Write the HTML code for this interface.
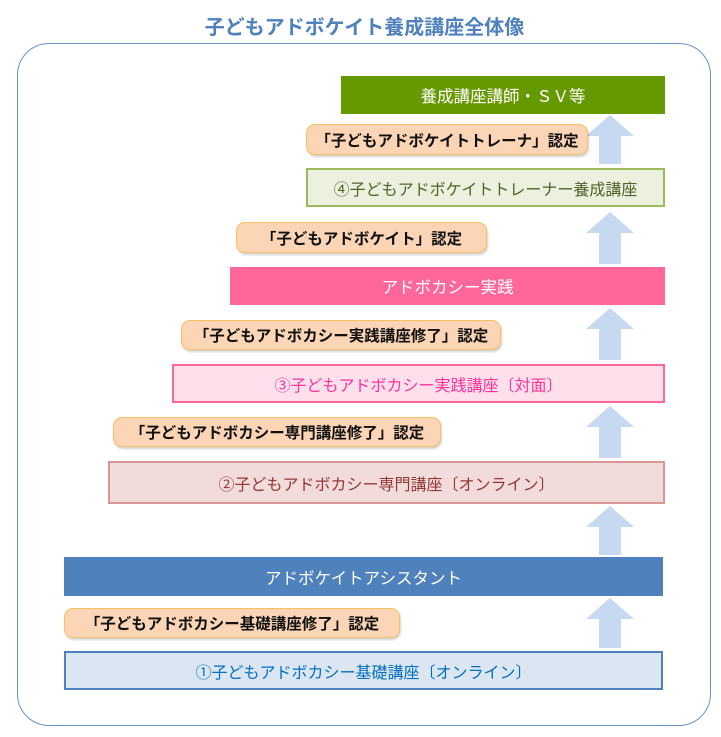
<!DOCTYPE html>
<html><head><meta charset="utf-8"><style>
body{margin:0;width:721px;height:737px;background:#fff;position:relative;overflow:hidden;font-family:"Liberation Sans","Noto Sans CJK JP",sans-serif}
.a{position:absolute;box-sizing:border-box;display:flex;align-items:center;justify-content:center;white-space:nowrap}
.pill{background:#fbd5b5;border:1px solid #f8c060;border-radius:9px;font-weight:bold;font-size:15.5px;color:#111;box-shadow:1px 2px 2px rgba(0,0,0,.18)}
.bx{font-size:16px}
</style></head><body>
<div class="a" style="left:0;width:729px;top:11px;height:28px;font-size:20px;font-weight:bold;color:#4f81bd">子どもアドボケイト養成講座全体像</div>
<div style="position:absolute;left:17px;top:43px;width:694px;height:683px;border:1.5px solid #6a92c8;border-radius:32px;box-sizing:border-box"></div>
<svg style="position:absolute;left:0;top:0" width="721" height="737">
<g fill="#c6d9f1">
<polygon points="610,115 634,136 621,136 621,164 599,164 599,136 586,136"/>
<polygon points="610,212 634,233 621,233 621,264 599,264 599,233 586,233"/>
<polygon points="610,308 634,329 621,329 621,360 599,360 599,329 586,329"/>
<polygon points="610,406 634,427 621,427 621,458 599,458 599,427 586,427"/>
<polygon points="610,506 634,527 621,527 621,555 599,555 599,527 586,527"/>
<polygon points="610,598 634,619 621,619 621,648 599,648 599,619 586,619"/>
</g></svg>
<div class="a" style="left:341px;top:76px;width:324px;height:38px;background:#669900;color:#fff;font-size:16.5px">養成講座講師・ＳＶ等</div>
<div class="a pill" style="left:306px;top:124px;width:282px;height:31px">「子どもアドボケイトトレーナ」認定</div>
<div class="a bx" style="left:306px;top:168px;width:359px;height:39px;background:#ebf1de;border:2px solid #9bbb59;color:#4f6228">④子どもアドボケイトトレーナー養成講座</div>
<div class="a pill" style="left:236px;top:222px;width:251px;height:31px">「子どもアドボケイト」認定</div>
<div class="a" style="left:230px;top:267px;width:435px;height:38px;background:#ff6699;color:#fff;font-size:16.5px">アドボカシー実践</div>
<div class="a pill" style="left:181px;top:320px;width:320px;height:30px">「子どもアドボカシー実践講座修了」認定</div>
<div class="a bx" style="left:172px;top:364px;width:493px;height:39px;background:#fde0ec;border:2px solid #ff6699;color:#ff3399">③子どもアドボカシー実践講座〔対面〕</div>
<div class="a pill" style="left:113px;top:417px;width:328px;height:30px">「子どもアドボカシー専門講座修了」認定</div>
<div class="a bx" style="left:108px;top:461px;width:557px;height:43px;background:#f2dcdb;border:2px solid #d99694;color:#953735">②子どもアドボカシー専門講座〔オンライン〕</div>
<div class="a" style="left:64px;top:557px;width:599px;height:39px;background:#4f81bd;color:#fff;font-size:16.5px">アドボケイトアシスタント</div>
<div class="a pill" style="left:64px;top:608px;width:336px;height:30px">「子どもアドボカシー基礎講座修了」認定</div>
<div class="a bx" style="left:64px;top:651px;width:599px;height:39px;background:#dce6f2;border:2px solid #4f81bd;color:#0070c0">①子どもアドボカシー基礎講座〔オンライン〕</div>
</body></html>
